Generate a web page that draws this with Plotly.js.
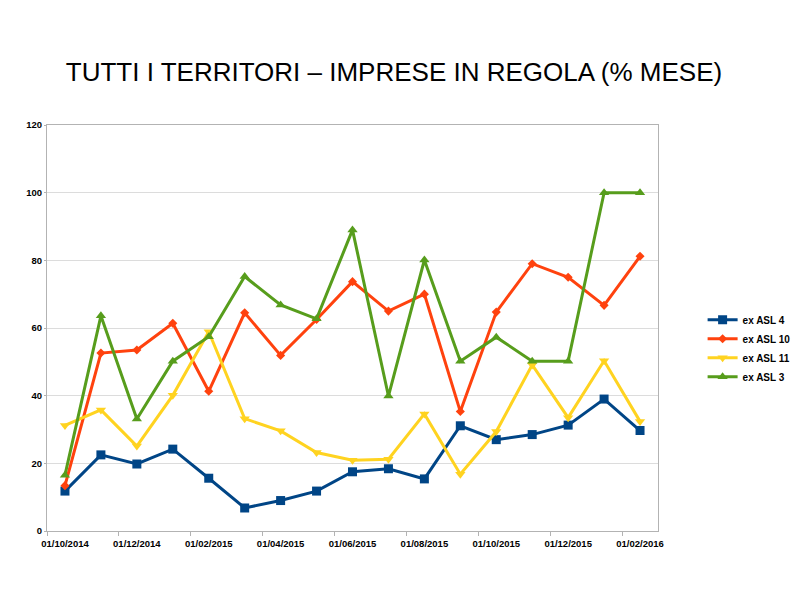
<!DOCTYPE html>
<html><head><meta charset="utf-8">
<script src="https://cdn.plot.ly/plotly-3.0.1.min.js"></script>
<style>html,body{margin:0;padding:0;background:#fff}</style>
</head><body>
<div id="chart" style="width:794px;height:595px"></div>
<script>
const months = ["01/10/2014","01/11/2014","01/12/2014","01/01/2015","01/02/2015","01/03/2015","01/04/2015","01/05/2015","01/06/2015","01/07/2015","01/08/2015","01/09/2015","01/10/2015","01/11/2015","01/12/2015","01/01/2016","01/02/2016"];
const asl4  = [11.8,22.5,19.8,24.2,15.6,6.8,9.0,11.8,17.5,18.4,15.4,31.1,27.0,28.5,31.3,39.0,29.7];
const asl10 = [13.4,52.6,53.5,61.4,41.3,64.5,51.9,62.5,73.7,65.0,70.0,35.3,64.7,79.0,75.0,66.7,81.2];
const asl11 = [31.2,35.8,25.1,40.1,58.9,33.2,29.6,23.2,20.9,21.2,34.6,16.8,29.4,49.1,33.5,50.3,32.4];
const asl3  = [16.5,63.6,33.1,50.2,57.4,75.2,66.8,62.7,89.0,39.9,80.1,50.2,57.3,50.2,50.2,100,100];
const names = ["ex ASL 4","ex ASL 10","ex ASL 11","ex ASL 3"];
const colors = ["#004586","#ff420e","#ffd320","#579d1c"];

function tr(y, i, sym, size){
  return {x: months, y: y, name: names[i], type:'scatter', mode:'lines+markers',
    line:{color:colors[i], width:3}, marker:{symbol:sym, size:size, color:colors[i]}};
}
const data = [tr(asl4,0,'square',9), tr(asl10,1,'diamond',7), tr(asl11,2,'triangle-down',9), tr(asl3,3,'triangle-up',9)];
const tickFont = {family:'Liberation Sans, Arial, sans-serif', size:9.5, color:'#000', weight:'bold'};
const layout = {
  width:794, height:595,
  margin:{l:47, r:136, t:125, b:64, autoexpand:false},
  paper_bgcolor:'#fff', plot_bgcolor:'#fff',
  title:{text:'TUTTI I TERRITORI – IMPRESE IN REGOLA (% MESE)', x:394/794, xref:'container', xanchor:'center',
    y:1-72/595, yref:'container', yanchor:'middle',
    font:{family:'Liberation Sans, Arial, sans-serif', size:26, color:'#000'}},
  xaxis:{type:'category', range:[-0.5,16.5], tickson:'boundaries', dtick:2, tickangle:0, ticks:'outside', ticklen:4, tickcolor:'#b3b3b3',
    ticklabelstandoff:4,
    showgrid:false, showline:true, linecolor:'#b3b3b3', mirror:true, tickfont:tickFont, zeroline:false},
  yaxis:{range:[0,120], dtick:20, ticks:'outside', ticklen:2, tickcolor:'#b3b3b3', showgrid:true, gridcolor:'#dcdcdc',
    showline:true, linecolor:'#b3b3b3', mirror:true, tickfont:tickFont, zeroline:false},
  showlegend:true,
  legend:{x:1.073, xanchor:'left', y:0.45, yanchor:'middle', font:{family:'Liberation Sans, Arial, sans-serif', size:10, color:'#000', weight:'bold'},
    itemwidth:30, tracegroupgap:0, bgcolor:'rgba(0,0,0,0)'}
};
Plotly.newPlot('chart', data, layout, {displayModeBar:false, staticPlot:true});
</script>
</body></html>
